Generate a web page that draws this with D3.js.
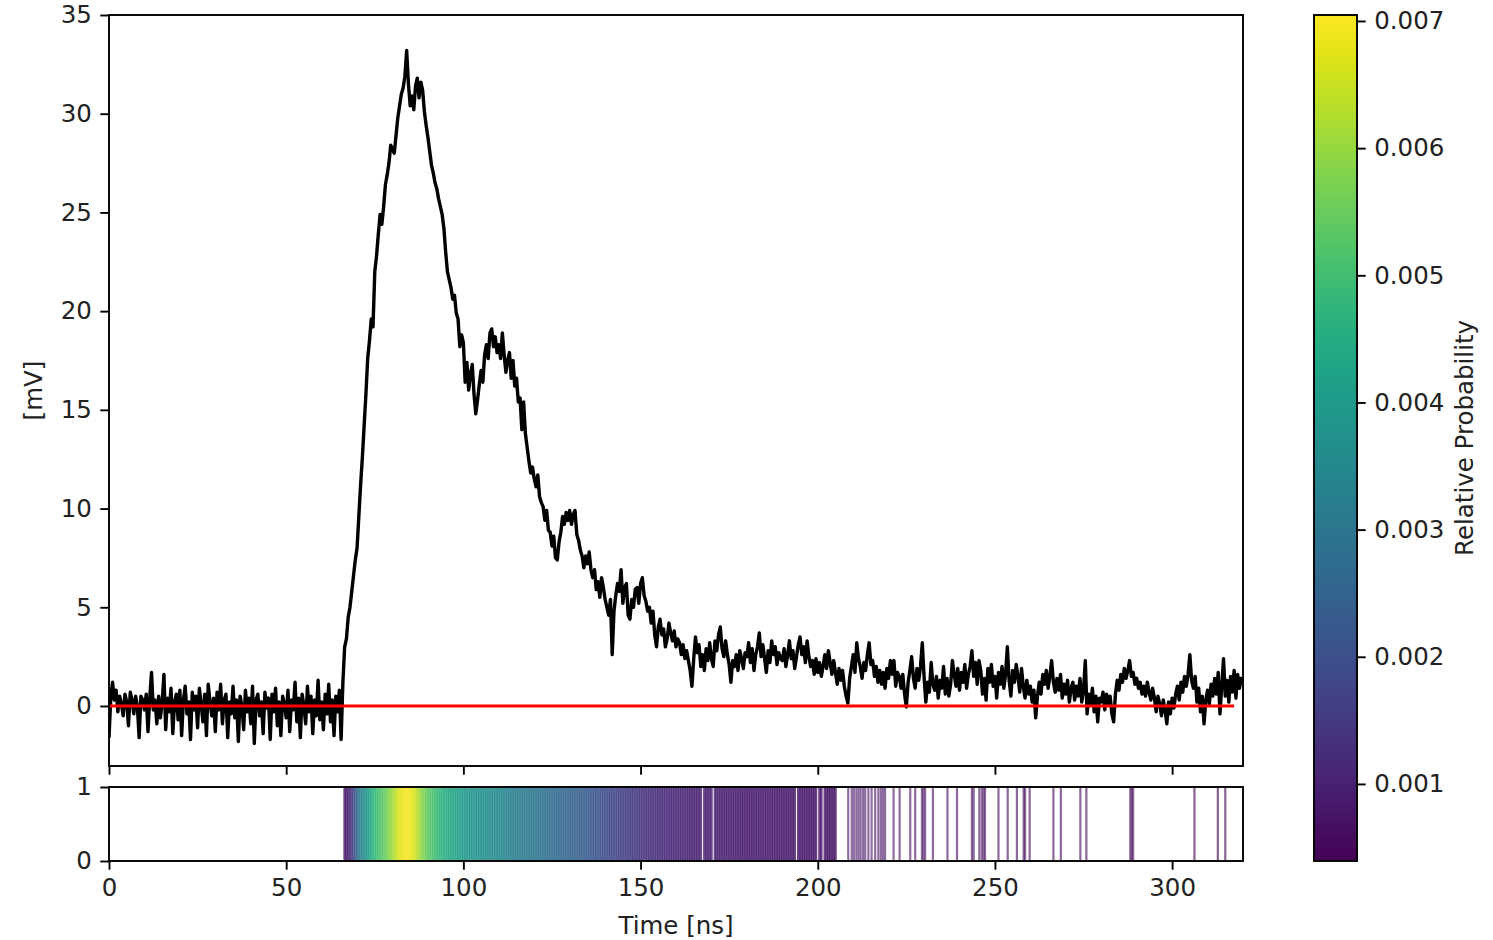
<!DOCTYPE html>
<html>
<head>
<meta charset="utf-8">
<script src="https://cdn.jsdelivr.net/npm/d3@7"></script>
<style>
  body { margin: 0; background: #fff; }
  text { font-family: "DejaVu Sans", sans-serif; fill: #222; }
</style>
</head>
<body>
<div id="chart"></div>
<script>
// sampling step of the trace [ns]
var dt = 0.5;

// measured trace [mV], one row = 10 ns
var voltage = [
  -1.6,0.4,1.2,0.3,0.8,-0.3,0.5,0.1,-0.5,0.6,0.2,-1.0,0.7,0.3,-0.4,0.5,0.0,-1.6,0.5,0.3,
  -0.2,0.6,-1.3,0.4,1.7,-0.2,0.3,-0.9,0.5,-0.6,0.2,1.6,-1.2,0.4,-0.3,0.9,-1.4,0.2,0.6,-0.7,
  0.8,-1.5,0.3,1.0,-0.4,0.2,-1.7,0.7,-0.2,0.5,-1.1,0.9,0.1,-0.8,0.6,-1.5,1.1,0.2,-0.5,0.4,
  -1.3,0.7,-0.2,1.1,-0.9,0.3,0.6,-1.6,0.2,-0.4,1.0,-0.6,0.3,-1.8,0.5,0.0,-1.2,0.8,-0.3,0.4,
  -0.9,1.0,-1.9,0.3,0.6,-0.5,0.2,-1.4,0.7,-0.1,0.4,-1.7,0.6,-0.3,0.9,-1.0,0.2,-1.5,0.5,0.1,
  -0.6,0.8,-1.3,0.3,-0.2,1.2,-0.8,0.4,-1.6,0.6,0.0,-0.9,1.0,-0.3,0.5,-1.4,0.3,-0.5,1.3,-0.7,
  0.2,-1.2,0.6,-0.4,1.1,-0.8,0.3,-1.5,0.5,-0.3,0.8,-1.7,1.2,3.0,3.4,4.5,5.0,5.8,6.6,7.4,
  8.0,9.6,11.2,12.6,14.2,15.8,17.6,18.5,19.6,19.2,22.0,22.8,23.9,24.9,24.4,25.3,26.4,26.9,27.5,28.4,
  28.2,28.0,28.9,29.8,30.4,31.0,31.3,31.9,33.2,31.5,30.4,30.9,30.2,31.4,31.8,30.8,31.6,31.2,30.1,29.4,
  28.8,28.1,27.4,27.0,26.5,26.2,25.7,25.3,24.9,24.2,23.0,22.0,21.6,21.2,20.6,20.8,19.9,19.6,18.2,18.8,
  18.4,16.4,17.4,16.0,16.8,17.3,15.8,14.8,15.5,16.3,17.0,16.4,17.8,18.3,17.6,18.9,19.1,18.2,18.7,17.9,
  18.3,17.6,18.9,17.8,16.9,17.5,17.9,16.6,17.5,16.2,16.6,15.4,15.6,14.0,15.4,13.8,13.1,12.4,11.8,12.1,
  11.5,11.1,11.7,10.6,10.3,10.1,9.4,9.9,8.9,8.8,8.1,8.6,7.5,7.4,8.3,8.8,9.6,9.2,9.8,9.4,
  9.9,9.2,9.7,9.9,8.7,8.4,7.9,7.6,7.0,7.6,7.2,7.8,6.9,6.5,6.9,5.9,6.3,5.5,6.5,6.0,
  5.4,5.0,4.6,5.4,2.6,4.8,5.6,6.2,5.8,6.9,5.2,6.0,6.2,4.6,4.4,5.4,5.0,5.9,6.0,5.2,
  6.2,6.5,5.6,5.3,4.8,5.0,4.2,4.8,3.6,3.0,4.0,4.4,3.6,3.9,3.0,3.4,4.2,3.7,3.3,3.8,
  3.0,3.4,3.2,2.6,3.1,2.4,2.8,2.3,1.8,1.0,2.4,3.5,2.7,3.1,2.0,2.6,1.8,2.9,2.3,3.2,
  2.4,2.0,3.3,2.8,3.6,4.0,2.9,2.5,3.3,2.6,2.1,1.2,2.3,2.0,2.6,1.8,2.8,2.4,1.9,2.7,
  2.5,3.2,2.2,2.9,1.8,2.6,3.0,3.7,2.5,3.1,2.4,1.7,2.8,2.2,3.3,2.6,3.0,2.1,2.7,2.4,
  2.3,2.9,2.0,2.6,3.3,2.4,2.8,1.9,2.5,3.1,3.5,2.6,3.0,2.2,3.3,2.5,2.0,2.3,1.6,2.4,
  1.7,2.2,1.5,2.0,2.6,1.9,2.8,2.2,1.6,2.3,1.7,1.1,1.9,1.3,1.8,1.0,0.5,0.15,1.4,2.0,
  2.6,1.7,3.2,2.4,2.0,1.4,2.2,1.8,2.6,3.2,2.1,2.3,1.5,2.0,1.2,1.8,1.1,1.7,0.9,1.9,
  1.4,2.3,1.6,2.3,1.0,1.7,1.5,0.9,1.6,0.6,-0.05,1.2,1.8,2.5,1.4,0.9,1.9,1.3,2.0,3.2,
  1.5,0.2,1.2,0.7,2.2,1.1,0.8,1.5,0.4,1.3,0.9,2.0,0.6,1.4,0.5,1.1,2.3,1.6,1.0,1.9,
  0.8,1.7,1.2,2.1,0.9,1.6,2.0,2.8,1.5,2.2,1.1,2.3,1.8,0.6,1.4,0.3,1.9,1.2,2.1,1.0,
  1.5,0.4,1.7,1.1,2.0,0.9,1.6,3.0,1.3,0.5,1.8,1.2,2.1,1.5,0.7,1.9,1.0,0.4,1.3,0.6,
  1.0,0.2,0.8,-0.6,0.5,1.2,0.6,1.6,1.1,1.8,0.9,1.5,2.3,1.2,0.7,1.4,0.8,1.6,0.4,1.1,
  0.6,1.3,0.2,0.9,1.2,0.3,1.0,0.5,1.4,0.2,0.8,2.3,-0.4,0.6,0.1,0.9,-0.3,0.5,-0.8,0.4,
  0.2,0.7,-0.2,0.6,0.1,0.5,-0.4,-0.8,0.6,1.3,0.8,1.6,1.2,1.9,1.4,1.8,2.3,1.5,1.7,1.1,
  1.4,0.9,1.2,0.6,1.0,0.5,1.2,0.7,0.3,0.9,0.4,-0.3,0.5,0.1,-0.5,0.3,-0.2,-0.9,0.2,-0.4,
  0.4,-0.1,0.6,1.0,0.3,1.2,0.7,1.5,1.0,1.6,2.6,1.3,0.9,1.5,0.2,0.9,-0.3,0.5,-0.9,0.3,
  0.8,0.1,1.1,0.5,1.4,0.6,1.7,-0.4,1.0,2.4,0.5,1.3,0.2,1.5,0.7,1.8,0.4,1.6,0.9,1.4,
  1.2
];

// baseline (red) span [ns]
var baselineRange = [0, 317.5];

// photon arrival strip: continuous block, its gaps, then isolated events [ns]
var denseRange = [66.5, 205];
var denseGaps = [[167.2, 167.7], [170.2, 170.7], [193.8, 194.3], [199.6, 200.1], [201.2, 201.6]];
var sparseEvents = [208.6, 209.6, 210.2, 210.9, 211.5, 212.1, 212.8, 213.4, 214.3, 215.2, 216.2,
  217.1, 217.8, 218.4, 219.0, 221.4, 223.1, 226.1, 227.5, 229.4, 229.8, 230.3, 232.5, 236.6,
  239.3, 243.5, 244.0, 245.6, 246.3, 246.8, 247.2, 251.0, 253.6, 256.2, 258.1, 258.5, 259.8,
  266.5, 268.6, 274.1, 275.8, 288.2, 288.6, 289.0, 306.3, 312.9, 315.0];

// relative probability envelope used for the strip colours
var probT = [66.5, 68, 69, 70, 71, 73, 75, 78, 80, 82, 84, 86, 88, 90, 93, 96, 100, 105, 110,
  115, 120, 125, 133, 142, 152, 165, 180, 200, 220, 250, 290, 320];
var probV = [0.0007, 0.0011, 0.0018, 0.0026, 0.0033, 0.0040, 0.0048, 0.0055, 0.0061, 0.0067,
  0.0070, 0.0067, 0.0060, 0.0054, 0.0048, 0.0044, 0.0040, 0.0037, 0.0035, 0.0032, 0.0030,
  0.0027, 0.0024, 0.0018, 0.0013, 0.0010, 0.0009, 0.0008, 0.0007, 0.0006, 0.0005, 0.0004];

var xTicks = [0, 50, 100, 150, 200, 250, 300];
var yTicks = [0, 5, 10, 15, 20, 25, 30, 35];
var stripTicks = [0, 1];
var cbTicks = [0.001, 0.002, 0.003, 0.004, 0.005, 0.006, 0.007];

var W = 1493, H = 940;
var fs = 24.5, tickLen = 8.7, tickPad = 8.5, axW = 1.9;

var svg = d3.select("#chart").append("svg")
  .attr("width", W).attr("height", H);

var left = 109, right = 1243;
var main = {top: 15, bottom: 766};
var strip = {top: 787, bottom: 861};
var cb = {left: 1314, right: 1357, top: 15, bottom: 861};

var x = d3.scaleLinear().domain([0, 320]).range([left, right]);
var y = d3.scaleLinear().domain([-3.04, 35]).range([main.bottom, main.top]);
var ys = d3.scaleLinear().domain([0, 1]).range([strip.bottom, strip.top]);
var cbScale = d3.scaleLinear().domain([0.000394, 0.007047]).range([cb.bottom, cb.top]);
var color = d3.scaleSequential(d3.interpolateViridis).domain([0.000394, 0.007047]);
var probAt = d3.scaleLinear().domain(probT).range(probV).clamp(true);

function styleAxis(g) {
  g.select(".domain").remove();
  g.selectAll(".tick line").attr("stroke", "#000").attr("stroke-width", axW);
  g.selectAll(".tick text").style("font-size", fs + "px").attr("fill", "#222");
}

// clip paths
var defs = svg.append("defs");
defs.append("clipPath").attr("id", "clipMain").append("rect")
  .attr("x", left).attr("y", main.top).attr("width", right - left).attr("height", main.bottom - main.top);
defs.append("clipPath").attr("id", "clipStrip").append("rect")
  .attr("x", left).attr("y", strip.top).attr("width", right - left).attr("height", strip.bottom - strip.top);

// ---- main panel
var trace = voltage.map(function(v, i) { return {t: i * dt, v: v}; });

var line = d3.line().x(function(d) { return x(d.t); }).y(function(d) { return y(d.v); });

var gm = svg.append("g").attr("clip-path", "url(#clipMain)");
gm.append("path").datum(trace)
  .attr("d", line)
  .attr("fill", "none").attr("stroke", "#000").attr("stroke-width", 3.4)
  .attr("stroke-linejoin", "round");
gm.append("line")
  .attr("x1", x(baselineRange[0])).attr("x2", x(baselineRange[1]))
  .attr("y1", y(0)).attr("y2", y(0))
  .attr("stroke", "red").attr("stroke-width", 3.2);

svg.append("g").attr("transform", "translate(" + left + ",0)")
  .call(d3.axisLeft(y).tickValues(yTicks).tickSize(tickLen).tickPadding(tickPad))
  .call(styleAxis);
svg.append("g").attr("transform", "translate(0," + main.bottom + ")")
  .call(d3.axisBottom(x).tickValues(xTicks).tickSize(tickLen).tickFormat(""))
  .call(styleAxis);

svg.append("rect")
  .attr("x", left).attr("y", main.top).attr("width", right - left).attr("height", main.bottom - main.top)
  .attr("fill", "none").attr("stroke", "#000").attr("stroke-width", axW);

svg.append("text")
  .attr("transform", "translate(35," + ((main.top + main.bottom) / 2) + ") rotate(-90)")
  .attr("text-anchor", "middle").attr("dominant-baseline", "middle")
  .style("font-size", fs + "px").text("[mV]");

// ---- photon strip
var denseEvents = trace.map(function(d) { return d.t; }).filter(function(t) {
  if (t < denseRange[0] || t > denseRange[1]) return false;
  return !denseGaps.some(function(g) { return t > g[0] && t < g[1]; });
});
var events = denseEvents.concat(sparseEvents);

svg.append("g").attr("clip-path", "url(#clipStrip)")
  .selectAll("line.ev").data(events).enter().append("line")
  .attr("class", "ev")
  .attr("x1", function(t) { return x(t); }).attr("x2", function(t) { return x(t); })
  .attr("y1", ys(0)).attr("y2", ys(1))
  .attr("stroke", function(t) { return color(probAt(t)); })
  .attr("stroke-width", function(t) { return t <= denseRange[1] ? 2.6 : 2.2; })
  .attr("stroke-opacity", function(t) { return t <= denseRange[1] ? 0.8 : 0.62; });

svg.append("g").attr("transform", "translate(" + left + ",0)")
  .call(d3.axisLeft(ys).tickValues(stripTicks).tickSize(tickLen).tickPadding(tickPad).tickFormat(d3.format("d")))
  .call(styleAxis);
svg.append("g").attr("transform", "translate(0," + strip.bottom + ")")
  .call(d3.axisBottom(x).tickValues(xTicks).tickSize(tickLen).tickPadding(tickPad))
  .call(styleAxis);

svg.append("rect")
  .attr("x", left).attr("y", strip.top).attr("width", right - left).attr("height", strip.bottom - strip.top)
  .attr("fill", "none").attr("stroke", "#000").attr("stroke-width", axW);

svg.append("text")
  .attr("x", (left + right) / 2).attr("y", 934)
  .attr("text-anchor", "middle")
  .style("font-size", fs + "px").text("Time [ns]");

// ---- colorbar
var grad = defs.append("linearGradient").attr("id", "viridisGrad")
  .attr("x1", "0").attr("y1", "1").attr("x2", "0").attr("y2", "0");
d3.range(0, 1.0001, 0.05).forEach(function(f) {
  grad.append("stop").attr("offset", f).attr("stop-color", d3.interpolateViridis(f));
});
svg.append("rect")
  .attr("x", cb.left).attr("y", cb.top).attr("width", cb.right - cb.left).attr("height", cb.bottom - cb.top)
  .attr("fill", "url(#viridisGrad)").attr("stroke", "#000").attr("stroke-width", axW);

svg.append("g").attr("transform", "translate(" + cb.right + ",0)")
  .call(d3.axisRight(cbScale).tickValues(cbTicks).tickSize(tickLen).tickPadding(tickPad).tickFormat(d3.format(".3f")))
  .call(styleAxis);

svg.append("text")
  .attr("transform", "translate(1466," + ((cb.top + cb.bottom) / 2) + ") rotate(-90)")
  .attr("text-anchor", "middle").attr("dominant-baseline", "middle")
  .style("font-size", fs + "px").text("Relative Probability");
</script>
</body>
</html>
